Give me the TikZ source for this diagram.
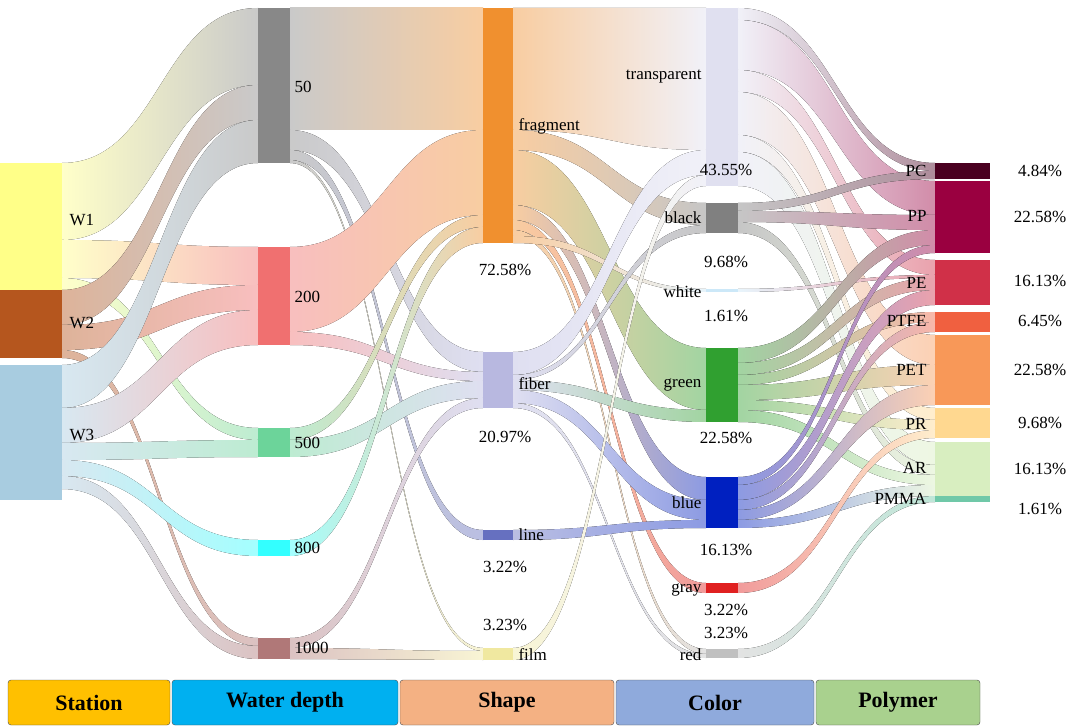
\documentclass[tikz,border=0pt]{standalone}
\usepackage{fontspec}
\setmainfont{Liberation Serif}
\begin{document}
\newcommand{\fl}[8]{\fill[left color=#7!45!white,right color=#8!45!white] (#1,#2) .. controls ({(#1+#4)/2},#2) and ({(#1+#4)/2},#5) .. (#4,#5) -- (#4,#6) .. controls ({(#1+#4)/2},#6) and ({(#1+#4)/2},#3) .. (#1,#3) -- cycle;}
\definecolor{cW1}{HTML}{FFFF88}\definecolor{cW2}{HTML}{B5561E}\definecolor{cW3}{HTML}{A8CCE0}
\definecolor{c50}{HTML}{888888}\definecolor{c200}{HTML}{F07070}\definecolor{c500}{HTML}{6CD49A}\definecolor{c800}{HTML}{33FFFF}\definecolor{c1000}{HTML}{B07878}
\definecolor{cfr}{HTML}{F0902F}\definecolor{cfi}{HTML}{B8B8E0}\definecolor{cli}{HTML}{6670C0}\definecolor{cfm}{HTML}{F0E8A0}
\definecolor{ctr}{HTML}{E0E0F0}\definecolor{cbk}{HTML}{808080}\definecolor{cwh}{HTML}{CCE8F8}\definecolor{cgr}{HTML}{30A030}\definecolor{cbl}{HTML}{0020C0}\definecolor{cgy}{HTML}{E02020}\definecolor{crd}{HTML}{C0C0C0}
\definecolor{cPC}{HTML}{4A0020}\definecolor{cPP}{HTML}{9A0040}\definecolor{cPE}{HTML}{D03048}\definecolor{cPTFE}{HTML}{F06040}\definecolor{cPET}{HTML}{F89858}\definecolor{cPR}{HTML}{FFD890}\definecolor{cAR}{HTML}{D8EEC0}\definecolor{cPMMA}{HTML}{70C8A8}
\begin{tikzpicture}[x=1pt,y=-1pt,font=\fontsize{17}{19}\selectfont,
 lg/.style={draw=black!70,rounded corners=3pt,font=\bfseries\fontsize{22}{24}\selectfont}]
\useasboundingbox (0,0) rectangle (1080,727);
% station -> depth
\fl{62}{163}{240}{258}{8}{85}{cW1}{c50}
\fl{62}{240}{278}{258}{247}{285}{cW1}{c200}
\fl{62}{278}{290}{258}{428}{440}{cW1}{c500}
\fl{62}{290}{325}{258}{85}{120}{cW2}{c50}
\fl{62}{325}{350}{258}{285}{310}{cW2}{c200}
\fl{62}{350}{358}{258}{638}{646}{cW2}{c1000}
\fl{62}{365}{408}{258}{120}{163}{cW3}{c50}
\fl{62}{408}{443}{258}{310}{345}{cW3}{c200}
\fl{62}{443}{460}{258}{440}{457}{cW3}{c500}
\fl{62}{460}{476}{258}{540}{556}{cW3}{c800}
\fl{62}{476}{489}{258}{646}{659}{cW3}{c1000}
% depth -> shape
\fl{290}{8}{130}{483}{8}{130}{c50}{cfr}
\fl{290}{130}{150}{483}{352}{372}{c50}{cfi}
\fl{290}{150}{160}{483}{530}{540}{c50}{cli}
\fl{290}{160}{163}{483}{648}{651}{c50}{cfm}
\fl{290}{247}{332}{483}{130}{215}{c200}{cfr}
\fl{290}{332}{345}{483}{372}{381}{c200}{cfi}
\fl{290}{428}{440}{483}{215}{227}{c500}{cfr}
\fl{290}{440}{457}{483}{381}{398}{c500}{cfi}
\fl{290}{540}{556}{483}{227}{243}{c800}{cfr}
\fl{290}{638}{648}{483}{398}{408}{c1000}{cfi}
\fl{290}{648}{659}{483}{651}{660}{c1000}{cfm}
% shape -> color
\fl{513}{8}{130}{706}{8}{150}{cfr}{ctr}
\fl{513}{130}{150}{706}{203}{225}{cfr}{cbk}
\fl{513}{150}{205}{706}{348}{410}{cfr}{cgr}
\fl{513}{205}{220}{706}{477}{500}{cfr}{cbl}
\fl{513}{220}{230}{706}{583}{593}{cfr}{cgy}
\fl{513}{230}{236}{706}{649}{654}{cfr}{crd}
\fl{513}{236}{243}{706}{289}{292}{cfr}{cwh}
\fl{513}{352}{375}{706}{150}{175}{cfi}{ctr}
\fl{513}{375}{380}{706}{225}{233}{cfi}{cbk}
\fl{513}{380}{390}{706}{410}{422}{cfi}{cgr}
\fl{513}{390}{403}{706}{500}{520}{cfi}{cbl}
\fl{513}{403}{408}{706}{654}{658}{cfi}{crd}
\fl{513}{530}{540}{706}{520}{528}{cli}{cbl}
\fl{513}{648}{660}{706}{175}{186}{cfm}{ctr}
% color -> polymer
\fl{738}{8}{20}{935}{163}{171}{ctr}{cPC}
\fl{738}{20}{70}{935}{181}{215}{ctr}{cPP}
\fl{738}{70}{92}{935}{260}{275}{ctr}{cPE}
\fl{738}{92}{135}{935}{335}{365}{ctr}{cPET}
\fl{738}{135}{152}{935}{408}{420}{ctr}{cPR}
\fl{738}{152}{186}{935}{442}{465}{ctr}{cAR}
\fl{738}{203}{211}{935}{171}{179}{cbk}{cPC}
\fl{738}{211}{222}{935}{215}{230}{cbk}{cPP}
\fl{738}{222}{233}{935}{465}{475}{cbk}{cAR}
\fl{738}{289}{292}{935}{275}{278}{cwh}{cPE}
\fl{738}{348}{363}{935}{230}{245}{cgr}{cPP}
\fl{738}{363}{375}{935}{278}{290}{cgr}{cPE}
\fl{738}{375}{385}{935}{312}{322}{cgr}{cPTFE}
\fl{738}{385}{400}{935}{365}{385}{cgr}{cPET}
\fl{738}{400}{410}{935}{420}{430}{cgr}{cPR}
\fl{738}{410}{422}{935}{475}{485}{cgr}{cAR}
\fl{738}{477}{485}{935}{245}{253}{cbl}{cPP}
\fl{738}{485}{500}{935}{290}{305}{cbl}{cPE}
\fl{738}{500}{510}{935}{322}{332}{cbl}{cPTFE}
\fl{738}{510}{520}{935}{385}{405}{cbl}{cPET}
\fl{738}{520}{528}{935}{485}{496}{cbl}{cAR}
\fl{738}{583}{593}{935}{430}{438}{cgy}{cPR}
\fl{738}{649}{658}{935}{496}{502}{crd}{cPMMA}
% nodes
\fill[cW1] (0,163) rectangle (62,290);\fill[cW2] (0,290) rectangle (62,358);\fill[cW3] (0,365) rectangle (62,500);
\fill[c50] (258,8) rectangle (290,163);\fill[c200] (258,247) rectangle (290,345);\fill[c500] (258,428) rectangle (290,457);\fill[c800] (258,540) rectangle (290,556);\fill[c1000] (258,638) rectangle (290,659);
\fill[cfr] (483,8) rectangle (513,243);\fill[cfi] (483,352) rectangle (513,408);\fill[cli] (483,530) rectangle (513,540);\fill[cfm] (483,648) rectangle (513,660);
\fill[ctr] (706,8) rectangle (738,186);\fill[cbk] (706,203) rectangle (738,233);\fill[cwh] (706,289) rectangle (738,292);\fill[cgr] (706,348) rectangle (738,422);\fill[cbl] (706,477) rectangle (738,528);\fill[cgy] (706,583) rectangle (738,593);\fill[crd] (706,649) rectangle (738,658);
\fill[cPC] (935,163) rectangle (990,179);\fill[cPP] (935,181) rectangle (990,253);\fill[cPE] (935,260) rectangle (990,305);\fill[cPTFE] (935,312) rectangle (990,332);\fill[cPET] (935,335) rectangle (990,405);\fill[cPR] (935,408) rectangle (990,438);\fill[cAR] (935,442) rectangle (990,496);\fill[cPMMA] (935,496) rectangle (990,502);
% labels
\foreach \t/\y in {W1/220,W2/323,W3/435} \node[anchor=west] (l\t) at (66,\y) {\t};
\foreach \t/\y in {50/87,200/297,500/443,800/548,1000/648} \node[anchor=west] (d\t) at (291,\y) {\t};
\foreach \t/\y in {fragment/126,fiber/384,line/535,film/655} \node[anchor=west] (s\t) at (515,\y) {\t};
\foreach \t/\y/\n in {72.58\%/270/a,20.97\%/437/b,3.22\%/567/c,3.23\%/625/d} \node (sp\n) at (505,\y) {\t};
\foreach \t/\y in {transparent/77,black/218,white/292,green/385,blue/503,gray/590,red/655} \node[anchor=east] (c\t) at (705,\y) {\t};
\foreach \t/\y/\n in {43.55\%/170/a,9.68\%/262/b,1.61\%/316/c,22.58\%/438/d,16.13\%/550/e,3.22\%/610/f,3.23\%/633/g} \node (cp\n) at (726,\y) {\t};
\foreach \t/\y in {PC/171,PP/216,PE/283,PTFE/321,PET/370,PR/424,AR/468,PMMA/499} \node[anchor=east] (p\t) at (930,\y) {\t};
\foreach \t/\y/\n in {4.84\%/171/a,22.58\%/217/b,16.13\%/281/c,6.45\%/321/d,22.58\%/370/e,9.68\%/423/f,16.13\%/469/g,1.61\%/509/h} \node (pp\n) at (1040,\y) {\t};
% legend
\draw[lg,fill={rgb,255:red,255;green,192;blue,0}] (8,680) rectangle node (g1) {Station} (170,725);
\draw[lg,fill={rgb,255:red,0;green,176;blue,240}] (172,680) rectangle node (g2) {Water depth} (398,725);
\draw[lg,fill={rgb,255:red,244;green,177;blue,131}] (400,680) rectangle node (g3) {Shape} (614,725);
\draw[lg,fill={rgb,255:red,143;green,170;blue,220}] (616,680) rectangle node (g4) {Color} (814,725);
\draw[lg,fill={rgb,255:red,169;green,209;blue,142}] (816,680) rectangle node (g5) {Polymer} (980,725);
\end{tikzpicture}
\end{document}
